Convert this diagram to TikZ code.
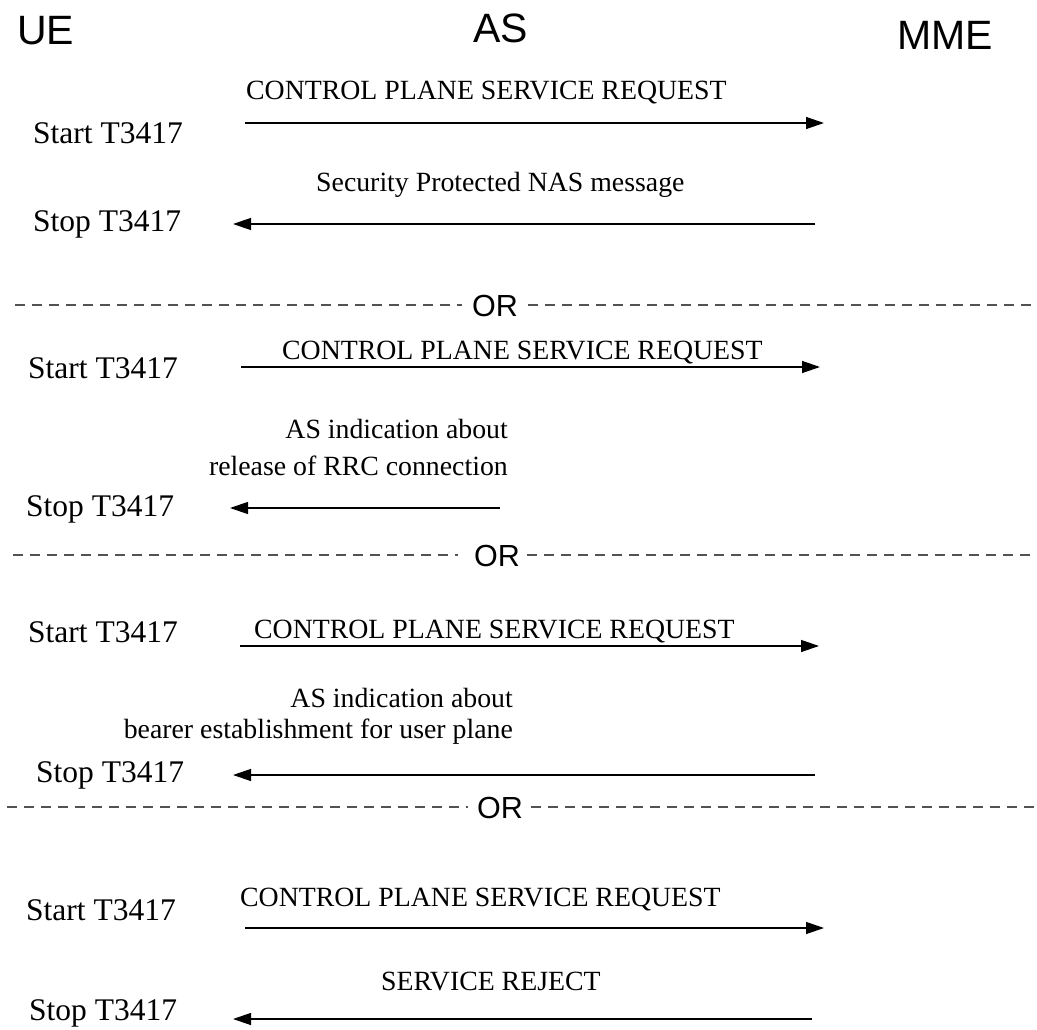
\documentclass[tikz,border=0pt]{standalone}
\usepackage{fontspec}
\setmainfont{Liberation Serif}
\newfontfamily\hdrfont{Liberation Sans}
\usetikzlibrary{arrows.meta}
\begin{document}
\begin{tikzpicture}[x=1pt,y=-1pt,
  hdr/.style={inner sep=0pt,anchor=base west,font=\hdrfont\fontsize{41}{48}\selectfont},
  orlab/.style={inner sep=0pt,font=\hdrfont\fontsize{30.5}{36}\selectfont},
  msg/.style={inner sep=0pt,anchor=base west,font=\fontsize{27.8}{33}\selectfont},
  msgr/.style={inner sep=0pt,anchor=base east,font=\fontsize{27.8}{33}\selectfont},
  tmr/.style={inner sep=0pt,anchor=base west,font=\fontsize{31.5}{37}\selectfont},
  sig/.style={line width=1.3pt,-{Triangle[length=18pt,width=12pt]}},
  sep/.style={line width=1.3pt,draw=black!68,dash pattern=on 10pt off 7pt}]
\useasboundingbox (0,0) rectangle (1037,1030);
% headers
\node[hdr] (ue) at (17,45) {UE};
\node[hdr] (as) at (473,43) {AS};
\node[hdr] (mme) at (897,50) {MME};
% ---- section 1
\node[msg] (m1) at (246,100) {CONTROL PLANE SERVICE REQUEST};
\node[tmr] (start1) at (33,144) {Start T3417};
\coordinate (a1s) at (245,123); \coordinate (a1e) at (824,123);
\draw[sig] (a1s) -- (a1e);
\node[msg] (m2) at (316,192) {Security Protected NAS message};
\node[tmr] (stop1) at (33,232) {Stop T3417};
\coordinate (a2s) at (815,224); \coordinate (a2e) at (233,224);
\draw[sig] (a2s) -- (a2e);
% OR 1
\node[orlab] (or1) at (495,306) {OR};
\coordinate (d1l) at (15,305); \coordinate (d1r) at (1037,305);
\draw[sep] (d1l) -- (462,305);
\draw[sep] (528,305) -- (d1r);
% ---- section 2
\node[msg] (m3) at (282,359) {CONTROL PLANE SERVICE REQUEST};
\node[tmr] (start2) at (28,378) {Start T3417};
\coordinate (a3s) at (241,367); \coordinate (a3e) at (820,367);
\draw[sig] (a3s) -- (a3e);
\node[msgr] (m4a) at (508,438) {AS indication about};
\node[msgr] (m4b) at (508,475) {release of RRC connection};
\node[tmr] (stop2) at (26,516) {Stop T3417};
\coordinate (a4s) at (500,508); \coordinate (a4e) at (230,508);
\draw[sig] (a4s) -- (a4e);
% OR 2
\node[orlab] (or2) at (497,556) {OR};
\coordinate (d2l) at (13,555); \coordinate (d2r) at (1037,555);
\draw[sep] (d2l) -- (458,555);
\draw[sep] (527,555) -- (d2r);
% ---- section 3
\node[msg] (m5) at (254,638) {CONTROL PLANE SERVICE REQUEST};
\node[tmr] (start3) at (28,642) {Start T3417};
\coordinate (a5s) at (240,646); \coordinate (a5e) at (819,646);
\draw[sig] (a5s) -- (a5e);
\node[msgr] (m6a) at (513,707) {AS indication about};
\node[msgr] (m6b) at (513,738) {bearer establishment for user plane};
\node[tmr] (stop3) at (36,782) {Stop T3417};
\coordinate (a6s) at (815,775); \coordinate (a6e) at (233,775);
\draw[sig] (a6s) -- (a6e);
% OR 3
\node[orlab] (or3) at (500,808) {OR};
\coordinate (d3l) at (7,807); \coordinate (d3r) at (1037,807);
\draw[sep] (d3l) -- (468,807);
\draw[sep] (531,807) -- (d3r);
% ---- section 4
\node[msg] (m7) at (240,906) {CONTROL PLANE SERVICE REQUEST};
\node[tmr] (start4) at (26,920) {Start T3417};
\coordinate (a7s) at (245,928); \coordinate (a7e) at (824,928);
\draw[sig] (a7s) -- (a7e);
\node[msg] (m8) at (381,990) {SERVICE REJECT};
\node[tmr] (stop4) at (29,1020) {Stop T3417};
\coordinate (a8s) at (812,1019); \coordinate (a8e) at (233,1019);
\draw[sig] (a8s) -- (a8e);
\end{tikzpicture}
\end{document}
